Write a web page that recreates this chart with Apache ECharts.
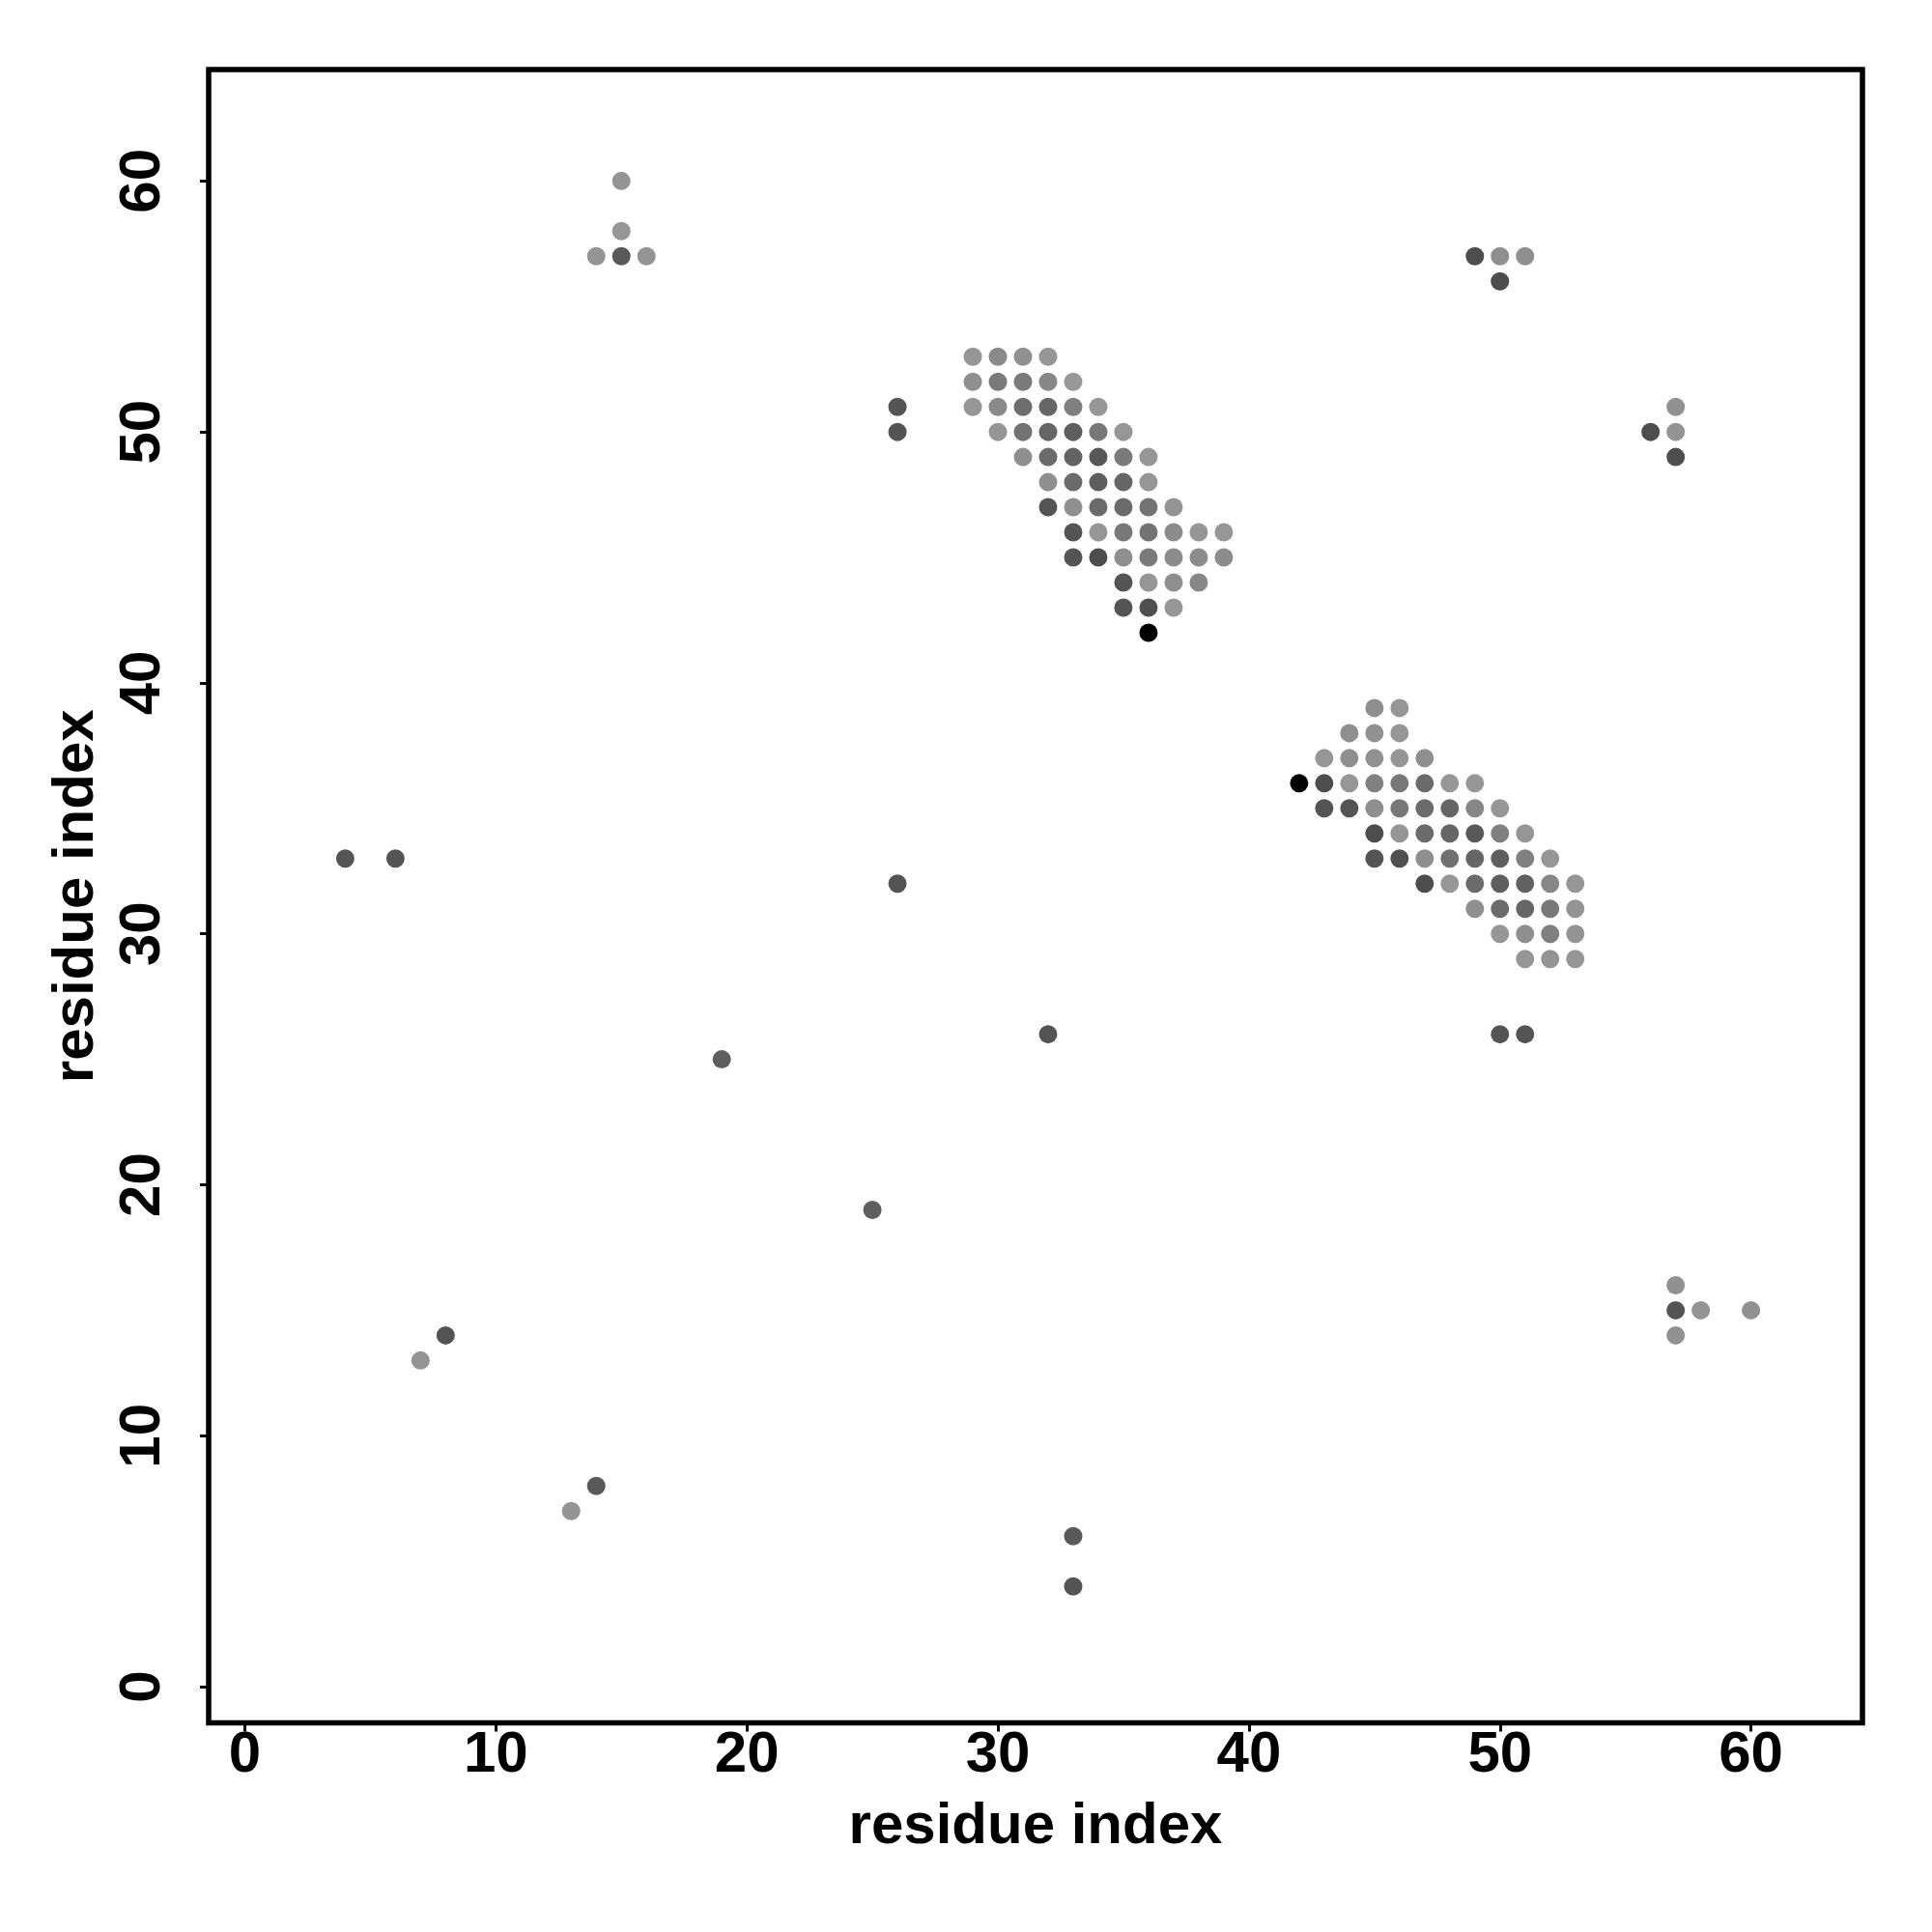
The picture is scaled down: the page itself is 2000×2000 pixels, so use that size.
<!DOCTYPE html>
<html>
<head>
<meta charset="utf-8">
<script src="https://cdn.jsdelivr.net/npm/echarts@6/dist/echarts.min.js"></script>
<style>
html,body{margin:0;padding:0;background:#fff;}
#chart{width:2000px;height:2000px;}
</style>
</head>
<body>
<div id="chart"></div>
<script>
// Axis tick values
const tickValues = [0, 10, 20, 30, 40, 50, 60];
const axisTitle = 'residue index';

// Contacts: [residue i, residue j, score] ; score drives grey level (1 = black)
const cluster1 = [
  [29,53,0.41],[30,53,0.46],[31,53,0.43],[32,53,0.41],
  [29,52,0.44],[30,52,0.52],[31,52,0.52],[32,52,0.47],[33,52,0.40],
  [29,51,0.41],[30,51,0.46],[31,51,0.57],[32,51,0.60],[33,51,0.50],[34,51,0.41],
  [30,50,0.41],[31,50,0.55],[32,50,0.60],[33,50,0.63],[34,50,0.53],[35,50,0.41],
  [31,49,0.44],[32,49,0.58],[33,49,0.61],[34,49,0.66],[35,49,0.52],[36,49,0.41],
  [32,48,0.44],[33,48,0.58],[34,48,0.63],[35,48,0.60],[36,48,0.41],
  [32,47,0.67],[33,47,0.44],[34,47,0.58],[35,47,0.58],[36,47,0.55],[37,47,0.42],
  [33,46,0.67],[34,46,0.41],[35,46,0.53],[36,46,0.55],[37,46,0.45],[38,46,0.41],[39,46,0.41],
  [33,45,0.67],[34,45,0.70],[35,45,0.44],[36,45,0.52],[37,45,0.45],[38,45,0.45],[39,45,0.45],
  [35,44,0.67],[36,44,0.41],[37,44,0.44],[38,44,0.47],
  [35,43,0.67],[36,43,0.69],[37,43,0.41],
  [36,42,1.00]
];
const cluster2 = [
  [45,39,0.44],[46,39,0.41],
  [44,38,0.44],[45,38,0.43],[46,38,0.41],
  [43,37,0.41],[44,37,0.44],[45,37,0.43],[46,37,0.41],[47,37,0.44],
  [42,36,1.00],[43,36,0.70],[44,36,0.41],[45,36,0.50],[46,36,0.53],[47,36,0.58],[48,36,0.41],[49,36,0.41],
  [43,35,0.67],[44,35,0.67],[45,35,0.44],[46,35,0.53],[47,35,0.58],[48,35,0.60],[49,35,0.47],[50,35,0.41],
  [45,34,0.70],[46,34,0.41],[47,34,0.58],[48,34,0.60],[49,34,0.65],[50,34,0.50],[51,34,0.41],
  [45,33,0.67],[46,33,0.69],[47,33,0.44],[48,33,0.56],[49,33,0.60],[50,33,0.63],[51,33,0.50],[52,33,0.41],
  [47,32,0.70],[48,32,0.41],[49,32,0.58],[50,32,0.63],[51,32,0.62],[52,32,0.47],[53,32,0.41],
  [49,31,0.44],[50,31,0.58],[51,31,0.60],[52,31,0.53],[53,31,0.42],
  [50,30,0.41],[51,30,0.44],[52,30,0.50],[53,30,0.42],
  [51,29,0.41],[52,29,0.42],[53,29,0.41]
];
const scattered = [
  [15,60,0.42],[15,58,0.41],[14,57,0.42],[15,57,0.65],[16,57,0.42],
  [49,57,0.70],[50,57,0.44],[51,57,0.44],[50,56,0.70],
  [26,51,0.67],[26,50,0.67],
  [57,51,0.43],[56,50,0.70],[57,50,0.42],[57,49,0.70],
  [4,33,0.67],[6,33,0.67],
  [26,32,0.67],
  [32,26,0.67],
  [50,26,0.67],[51,26,0.67],
  [19,25,0.63],
  [25,19,0.63],
  [57,16,0.43],[57,15,0.67],[58,15,0.42],[60,15,0.43],[57,14,0.43],
  [8,14,0.67],[7,13,0.42],
  [14,8,0.65],[13,7,0.42],
  [33,6,0.65],[33,4,0.67]
];

const allContacts = cluster1.concat(cluster2, scattered);

function greyFor(score) {
  const v = Math.round(255 * (1 - score));
  return 'rgb(' + v + ',' + v + ',' + v + ')';
}

const FONT = '"Liberation Sans", Arial, Helvetica, sans-serif';
const chart = echarts.init(document.getElementById('chart'), null, {renderer: 'canvas'});

const axisCommon = {
  type: 'value',
  min: -1.44,
  max: 64.44,
  name: axisTitle,
  nameLocation: 'middle',
  nameTextStyle: {fontFamily: FONT, fontWeight: 'bold', fontSize: 60, color: '#000'},
  axisLine: {show: false, onZero: false},
  splitLine: {show: false},
  axisTick: {show: true, inside: false, length: 9, customValues: tickValues,
             lineStyle: {color: '#000', width: 3}},
  axisLabel: {show: true, customValues: tickValues, fontFamily: FONT, fontWeight: 'bold',
              fontSize: 60, color: '#000'}
};

const option = {
  backgroundColor: '#fff',
  animation: false,
  grid: {left: 216, right: 72, top: 72, bottom: 216.5, show: true,
         borderColor: '#000', borderWidth: 5.5, backgroundColor: 'transparent'},
  xAxis: Object.assign({}, axisCommon, {
    nameGap: 78,
    axisLabel: Object.assign({}, axisCommon.axisLabel, {margin: 4})
  }),
  yAxis: Object.assign({}, axisCommon, {
    nameGap: 107,
    axisLabel: Object.assign({}, axisCommon.axisLabel, {margin: 38, rotate: 90})
  }),
  series: [{
    type: 'scatter',
    symbol: 'circle',
    symbolSize: 19,
    data: allContacts.map(d => ({value: [d[0], d[1]], itemStyle: {color: greyFor(d[2])}})),
    itemStyle: {opacity: 1}
  }]
};
chart.setOption(option);
</script>
</body>
</html>
